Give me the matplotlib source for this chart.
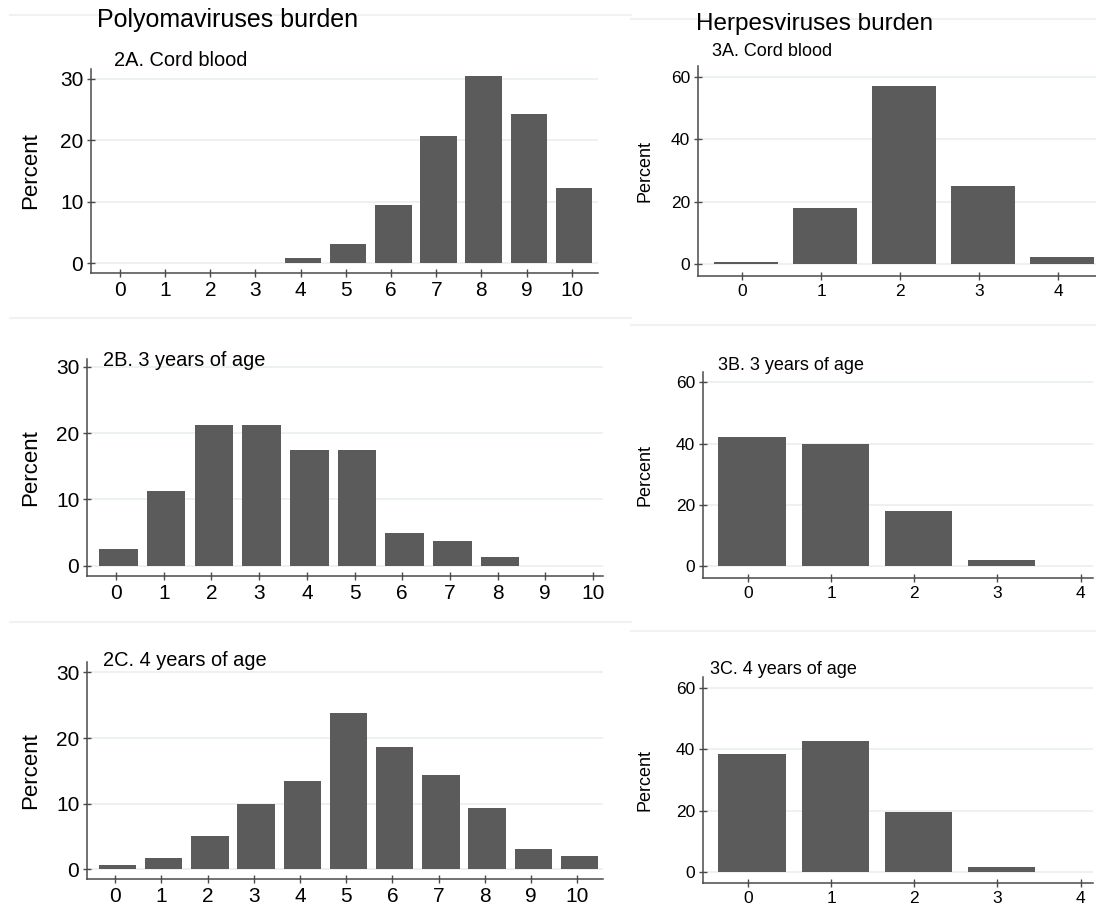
import numpy as np
import matplotlib
matplotlib.use("Agg")
import matplotlib.pyplot as plt
from matplotlib.lines import Line2D

plt.rcParams['font.family'] = ['Liberation Sans', 'DejaVu Sans']

# Percent of children by number of viruses detected
poly_counts = np.arange(11)
poly_cord = [0, 0, 0, 0, 0.8, 3.2, 9.5, 20.7, 30.5, 24.2, 12.3]
poly_3y = [2.5, 11.3, 21.3, 21.3, 17.5, 17.5, 5.0, 3.8, 1.3, 0, 0]
poly_4y = [0.7, 1.7, 5.0, 9.9, 13.4, 23.8, 18.6, 14.4, 9.4, 3.0, 2.0]

herp_counts = np.arange(5)
herp_cord = [0.7, 17.8, 57.0, 24.9, 2.2]
herp_3y = [42.1, 39.9, 17.9, 1.8, 0]
herp_4y = [38.4, 42.8, 19.4, 1.6, 0]

W, H = 1096, 915
BAR = '#5b5b5b'
AXIS = '#4a4a4a'
GRID = '#e9eff2'

fig = plt.figure(figsize=(W / 100, H / 100), dpi=100)


def px_axes(left, top, right, bottom):
    return fig.add_axes([left / W, 1 - bottom / H, (right - left) / W, (bottom - top) / H])


def panel(box, x, y, xlim, ylim, yticks, subtitle, sub_xy, big):
    ax = px_axes(*box)
    ax.bar(x + 0.05, y, width=0.81, color=BAR, linewidth=0, zorder=3)
    ax.set_xlim(*xlim)
    ax.set_ylim(*ylim)
    ax.set_xticks(x)
    ax.set_yticks(yticks)
    for s in ('top', 'right'):
        ax.spines[s].set_visible(False)
    for s in ('left', 'bottom'):
        ax.spines[s].set_color(AXIS)
        ax.spines[s].set_linewidth(1.1)
    ax.grid(axis='y', color=GRID, linewidth=1.2, zorder=0)
    tick_fs = 15 if big else 12.5
    ax.tick_params(direction='inout', length=6, width=1, color=AXIS,
                   labelsize=tick_fs, pad=2.5)
    # y label placed by hand so every panel lines up
    lab_x = 31 if big else 645
    cy = (box[1] + box[3]) / 2
    fig.text(lab_x / W, 1 - cy / H, 'Percent', rotation=90, ha='center', va='center',
             fontsize=16 if big else 13)
    fig.text(sub_xy[0] / W, 1 - sub_xy[1] / H, subtitle, ha='left', va='center',
             fontsize=14.4 if big else 13)
    return ax


left_ticks = [0, 10, 20, 30]
right_ticks = [0, 20, 40, 60]

panel((91, 69, 598, 273), poly_counts, poly_cord, (-0.64, 10.58), (-1.6, 31.6),
      left_ticks, '2A. Cord blood', (114, 60), True)
panel((87, 359, 603, 576), poly_counts, poly_3y, (-0.61, 10.21), (-1.55, 31.2),
      left_ticks, '2B. 3 years of age', (103, 361), True)
panel((87, 662, 603, 879), poly_counts, poly_4y, (-0.61, 10.56), (-1.5, 31.6),
      left_ticks, '2C. 4 years of age', (103, 661), True)

panel((698, 66, 1096, 276), herp_counts, herp_cord, (-0.56, 4.48), (-3.85, 63.5),
      right_ticks, '3A. Cord blood', (712, 52), False)
panel((703, 372, 1093, 578), herp_counts, herp_3y, (-0.54, 4.15), (-4.0, 63.4),
      right_ticks, '3B. 3 years of age', (718, 366), False)
panel((703, 677, 1093, 883), herp_counts, herp_4y, (-0.54, 4.15), (-3.7, 63.7),
      right_ticks, '3C. 4 years of age', (710, 670), False)

fig.text(97 / W, 1 - 20 / H, 'Polyomaviruses burden', ha='left', va='center', fontsize=18)
fig.text(696 / W, 1 - 24 / H, 'Herpesviruses burden', ha='left', va='center', fontsize=17.5)

# faint borders between the stacked graphs
sep = '#eef2f5'
for yy in (15, 318, 622):
    fig.add_artist(Line2D([10 / W, 631 / W], [1 - yy / H] * 2, color=sep, lw=1.5))
for yy in (19, 325, 631):
    fig.add_artist(Line2D([631 / W, 1], [1 - yy / H] * 2, color=sep, lw=1.5))

fig.savefig('out.png', dpi=100, facecolor='white')
